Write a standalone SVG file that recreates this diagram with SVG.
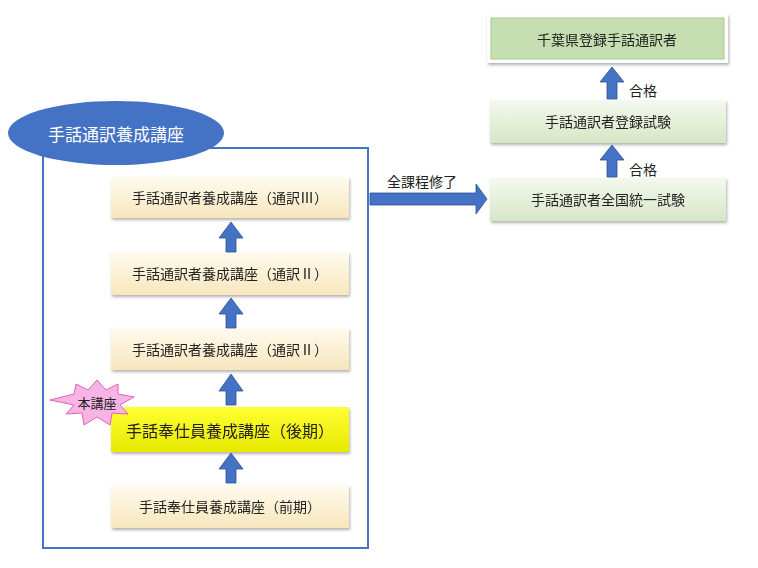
<svg xmlns="http://www.w3.org/2000/svg" width="758" height="568" viewBox="0 0 758 568">
<defs>
<linearGradient id="cream" x1="0" y1="0" x2="0" y2="1"><stop offset="0" stop-color="#fffbee"/><stop offset="1" stop-color="#f7e6bd"/></linearGradient>
<linearGradient id="green" x1="0" y1="0" x2="0" y2="1"><stop offset="0" stop-color="#f4f9ee"/><stop offset="1" stop-color="#d6e6c6"/></linearGradient>
<linearGradient id="yellow" x1="0" y1="0" x2="0" y2="1"><stop offset="0" stop-color="#ffff33"/><stop offset="1" stop-color="#e8e800"/></linearGradient>
<filter id="sh" x="-10%" y="-20%" width="120%" height="150%"><feDropShadow dx="1" dy="2" stdDeviation="1.5" flood-color="#000" flood-opacity="0.3"/></filter>
</defs>
<style>
text{font-family:"Noto Sans CJK JP",sans-serif;fill:#222;text-anchor:middle;dominant-baseline:central}
.b{font-size:14px}
.arr{fill:#4472c4;stroke:#2f528f;stroke-width:0.8}
</style>
<rect width="758" height="568" fill="#fff"/>
<rect x="43" y="148" width="325" height="400" fill="none" stroke="#4472c4" stroke-width="2"/>
<g id="header"><ellipse cx="116" cy="133" rx="108" ry="32" fill="#4472c4"/><text x="116" y="133" style="fill:#fff;font-size:17px">手話通訳養成講座</text></g>
<g id="n1" filter="url(#sh)"><rect x="111" y="177" width="238" height="41" fill="url(#cream)"/><text class="b" x="230" y="197">手話通訳者養成講座（通訳Ⅲ）</text></g>
<g id="n2" filter="url(#sh)"><rect x="111" y="252" width="238" height="43" fill="url(#cream)"/><text class="b" x="230" y="273">手話通訳者養成講座（通訳Ⅱ）</text></g>
<g id="n3" filter="url(#sh)"><rect x="111" y="328" width="238" height="42" fill="url(#cream)"/><text class="b" x="230" y="349">手話通訳者養成講座（通訳Ⅱ）</text></g>
<g id="n4" filter="url(#sh)"><rect x="111" y="407" width="238" height="45" fill="url(#yellow)"/><text x="230" y="430" style="font-size:16px">手話奉仕員養成講座（後期）</text></g>
<g id="n5" filter="url(#sh)"><rect x="111" y="485" width="238" height="43" fill="url(#cream)"/><text class="b" x="230" y="506">手話奉仕員養成講座（前期）</text></g>
<g id="star"><polygon points="97,380 106,390 118,384 118,394 134,397 120,405 128,414 112,413 110,425 97,417 84,425 82,413 66,414 74,405 50,400 74,394 76,384 88,390" fill="#f9b4e6" stroke="#e060b8"/><text x="97" y="402" style="font-size:13px">本講座</text></g>
<g id="r1" filter="url(#sh)"><rect x="487" y="14" width="241" height="49" fill="#fff"/><rect x="491" y="18" width="233" height="41" fill="#c5dfb0" stroke="#a9c98f"/><text class="b" x="607" y="39">千葉県登録手話通訳者</text></g>
<g id="r2" filter="url(#sh)"><rect x="490" y="100" width="236" height="43" fill="url(#green)"/><text class="b" x="608" y="121">手話通訳者登録試験</text></g>
<g id="r3" filter="url(#sh)"><rect x="490" y="178" width="236" height="43" fill="url(#green)"/><text class="b" x="608" y="199">手話通訳者全国統一試験</text></g>
<g id="connectors">
<polygon class="arr" points="226,252 226,238 219,238 231,222 243,238 236,238 236,252"/>
<polygon class="arr" points="226,328 226,314 219,314 231,298 243,314 236,314 236,328"/>
<polygon class="arr" points="226,405 226,391 219,391 231,374 243,391 236,391 236,405"/>
<polygon class="arr" points="226,483 226,469 219,469 231,453 243,469 236,469 236,483"/>
<polygon class="arr" points="370,193 476,193 476,184 487,199 476,214 476,205 370,205"/>
<polygon class="arr" points="607,99 607,82 600,82 612,67 624,82 617,82 617,99"/>
<polygon class="arr" points="607,177 607,160 600,160 612,145 624,160 617,160 617,177"/>
<text class="b" x="422" y="181">全課程修了</text>
<text class="b" x="643" y="90">合格</text>
<text class="b" x="643" y="169">合格</text>
</g>
</svg>
